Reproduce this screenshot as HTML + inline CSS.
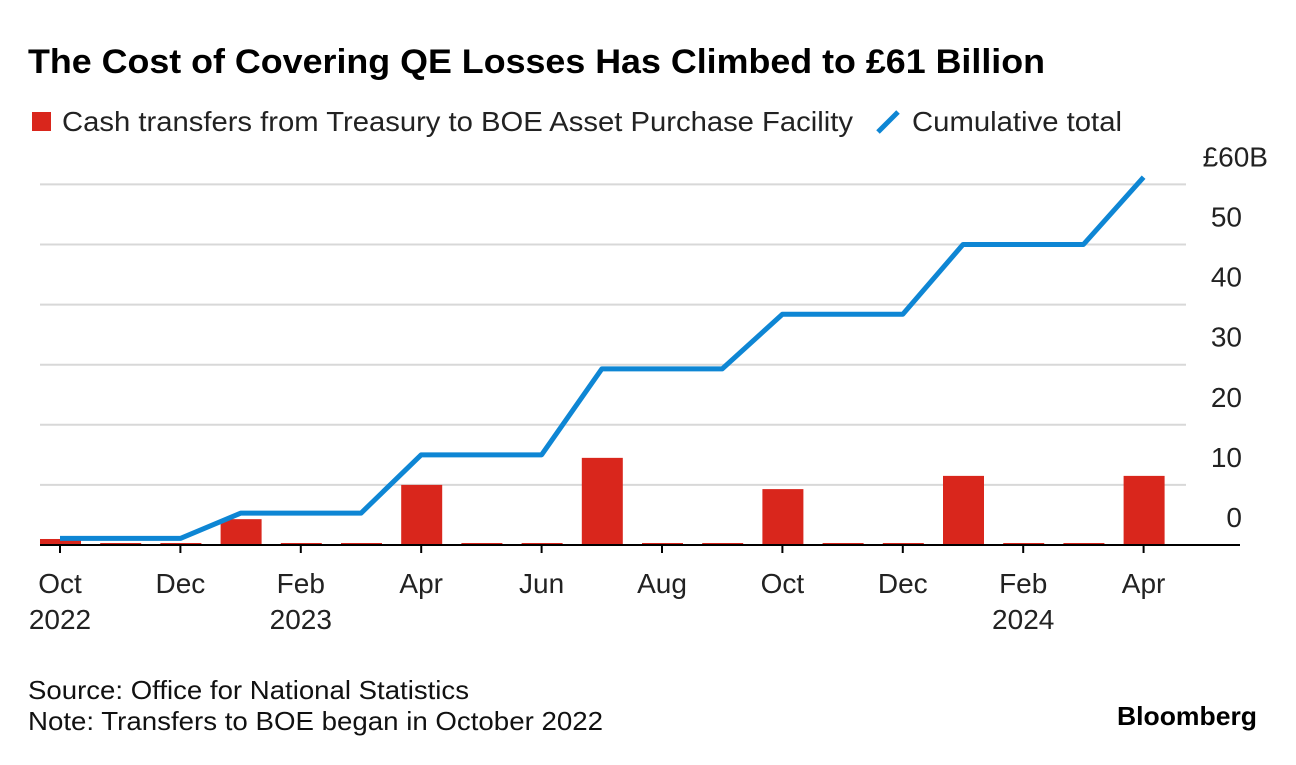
<!DOCTYPE html>
<html><head><meta charset="utf-8"><style>
body{margin:0;background:#fff;width:1296px;height:760px;overflow:hidden;font-family:"Liberation Sans",sans-serif;}
svg text{font-family:"Liberation Sans",sans-serif;}
</style></head><body>
<svg id="c" width="1296" height="760">
<text x="28" y="73" font-size="34" font-weight="bold" fill="#000" textLength="1017" lengthAdjust="spacingAndGlyphs">The Cost of Covering QE Losses Has Climbed to £61 Billion</text>
<g>
<rect x="32" y="112" width="19" height="19" fill="#d9261c"/>
<text x="62" y="131" font-size="28" fill="#222" textLength="791" lengthAdjust="spacingAndGlyphs">Cash transfers from Treasury to BOE Asset Purchase Facility</text>
<line x1="878" y1="132" x2="898" y2="112" stroke="#0e86d4" stroke-width="5"/>
<text x="912" y="131" font-size="28" fill="#222" textLength="210" lengthAdjust="spacingAndGlyphs">Cumulative total</text>
</g>
<g id="grid"></g><g id="bars"></g><g id="line"></g><g id="axes"></g>
<text x="28" y="699" font-size="26" fill="#111" textLength="441" lengthAdjust="spacingAndGlyphs">Source: Office for National Statistics</text>
<text x="28" y="730" font-size="26" fill="#111" textLength="575" lengthAdjust="spacingAndGlyphs">Note: Transfers to BOE began in October 2022</text>
<text x="1117" y="725" font-size="26" font-weight="bold" fill="#000" textLength="140" lengthAdjust="spacingAndGlyphs">Bloomberg</text>
</svg>
<script>
const months=["Oct","Nov","Dec","Jan","Feb","Mar","Apr","May","Jun","Jul","Aug","Sep","Oct","Nov","Dec","Jan","Feb","Mar","Apr"];
const transfers=[1.0,0.1,0.1,4.3,0.1,0.1,10.0,0.1,0.1,14.5,0.1,0.1,9.3,0.1,0.1,11.5,0.1,0.1,11.5];
const cumulative=[1.1,1.1,1.1,5.3,5.3,5.3,15.0,15.0,15.0,29.3,29.3,29.3,38.4,38.4,38.4,50.0,50.0,50.0,61.2];
const yTicks=[0,10,20,30,40,50,60];
const yTickLabels=["0","10","20","30","40","50","£60B"];
const xTickIdx=[0,2,4,6,8,10,12,14,16,18];
const xTickLabels=["Oct","Dec","Feb","Apr","Jun","Aug","Oct","Dec","Feb","Apr"];
const xYearIdx=[0,4,16];
const xYearLabels=["2022","2023","2024"];
const NS="http://www.w3.org/2000/svg";
const x=i=>60+i*60.2;
const y=v=>545-v*6.01;
function mk(p,t,a){const e=document.createElementNS(NS,t);for(const k in a)e.setAttribute(k,a[k]);document.getElementById(p).appendChild(e);return e;}
yTicks.forEach((v,i)=>{
 if(v>0){const g=mk("grid","line",{x1:40,x2:1186,y1:y(v),y2:y(v),stroke:"#d8d8d8","stroke-width":2});
 
 }
 const t=mk("axes","text",{x:v===60?1268:1242,y:y(v)-18,"font-size":28,fill:"#222","text-anchor":"end"});
 t.textContent=yTickLabels[i];
 
 
});
transfers.forEach((v,i)=>{
 const h=Math.max(2,v*6.01);
 const r=mk("bars","rect",{x:x(i)-20,y:545-h,width:41,height:h,fill:"#d9261c"});
 
 
});
const pl=mk("line","polyline",{points:cumulative.map((v,i)=>x(i)+","+y(v)).join(" "),fill:"none",stroke:"#0e86d4","stroke-width":5,"stroke-linejoin":"round"});


const base=mk("axes","line",{x1:40,x2:1240,y1:545,y2:545,stroke:"#000","stroke-width":2});


xTickIdx.forEach((idx,i)=>{
 const tk=mk("axes","line",{x1:x(idx),x2:x(idx),y1:545,y2:553,stroke:"#000","stroke-width":2});
 
 
 const t=mk("axes","text",{x:x(idx),y:593,"font-size":28,fill:"#222","text-anchor":"middle"});
 t.textContent=xTickLabels[i];
 
 
});
xYearIdx.forEach((idx,i)=>{
 const t=mk("axes","text",{x:x(idx),y:629,"font-size":28,fill:"#222","text-anchor":"middle"});
 t.textContent=xYearLabels[i];
 
 
});
</script>
</body></html>
